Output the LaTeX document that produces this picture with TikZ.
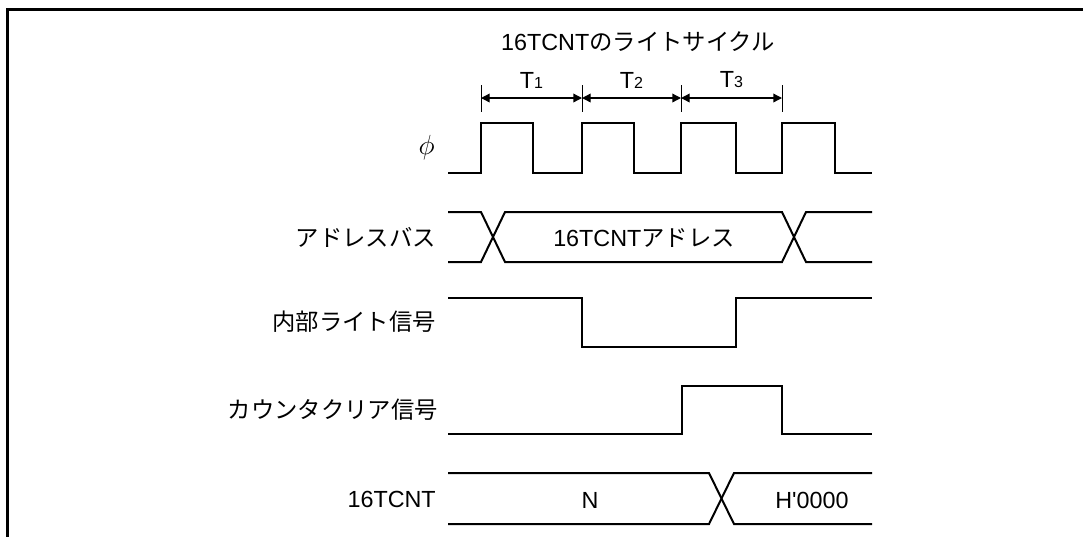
\documentclass[tikz,border=0pt]{standalone}
\usepackage{fontspec}
\setmainfont{Liberation Sans}
\newfontfamily\jpfont{Noto Sans CJK JP}
\usetikzlibrary{arrows.meta}

\begin{document}
\begin{tikzpicture}[x=0.75pt,y=-0.75pt,>={Triangle[length=6.5pt,width=6.5pt]},
    every node/.style={font=\fontsize{17.5}{20}\selectfont,inner sep=0pt},
    sig/.style={line width=1.5pt,line join=miter},
    lbl/.style={anchor=east}]
  \useasboundingbox (0,0) rectangle (1083,537);
  % frame
  \draw[line width=2.25pt] (1083,9) -- (7.5,9) -- (7.5,537);
  % write cycle marks
  \node (title) at (638,42) {16TCNT{\jpfont のライトサイクル}};
  \foreach \n/\x in {0/481,1/582,2/681,3/782}{
    \coordinate (t\n) at (\x,98);
    \draw[line width=0.75pt] (\x,85) -- (\x,112);
  }
  \foreach \a/\b/\tn in {t0/t1/1,t1/t2/2,t2/t3/3}{
    \draw[<->,line width=1pt] (\a) -- node[above=7pt] (T\tn) {T{\fontsize{12}{12}\selectfont\tn}} (\b);
  }
  % clock
  \node[lbl,font=\fontsize{21}{24}\selectfont] (phi) at (435,148) {$\phi$};
  \draw[sig] (448,173) \foreach \r/\f in {481/533,582/634,681/736,782/835}{
    -- (\r,173) -- (\r,123) -- (\f,123) -- (\f,173)} -- (872,173);
  % address bus
  \node[lbl] (abus) at (436,237) {\jpfont アドレスバス};
  \draw[sig] (448,212) -- (481,212) -- (505,262) -- (782,262) -- (806,212) -- (872,212);
  \draw[sig] (448,262) -- (481,262) -- (505,212) -- (782,212) -- (806,262) -- (872,262);
  \node (addr) at (644,238) {16TCNT{\jpfont アドレス}};
  % internal write
  \node[lbl] (wr) at (436,322) {\jpfont 内部ライト信号};
  \draw[sig] (448,298) -- (582,298) -- (582,347) -- (736,347) -- (736,298) -- (872,298);
  % counter clear
  \node[lbl] (clr) at (438,410) {\jpfont カウンタクリア信号};
  \draw[sig] (448,434) -- (682,434) -- (682,386) -- (782,386) -- (782,434) -- (872,434);
  % counter value
  \node[lbl] (cnt) at (436,499) {16TCNT};
  \draw[sig] (448,473) -- (709,473) -- (734,524) -- (872,524);
  \draw[sig] (448,524) -- (709,524) -- (734,473) -- (872,473);
  \node (n) at (590,500) {N};
  \node (h) at (812,500) {H\textquotesingle 0000};
\end{tikzpicture}
\end{document}
